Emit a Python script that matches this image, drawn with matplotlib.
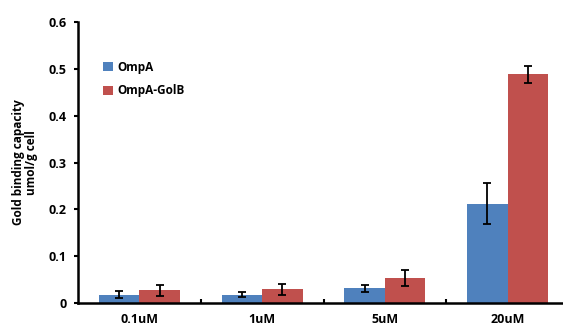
import numpy as np
import matplotlib.pyplot as plt

# data
categories = ["0.1uM", "1uM", "5uM", "20uM"]
ompa = [0.018, 0.018, 0.031, 0.212]
ompa_err = [0.007, 0.006, 0.008, 0.044]
golb = [0.027, 0.029, 0.053, 0.488]
golb_err = [0.011, 0.011, 0.017, 0.018]

plt.rcParams['font.family'] = ['Open Sans', 'DejaVu Sans']
plt.rcParams['font.weight'] = 'bold'

fig = plt.figure(figsize=(5.63, 3.26), dpi=100)
ax = fig.add_axes([78 / 563, 23 / 326, 491 / 563, 281 / 326])

x = np.arange(len(categories))
w = 0.33
err_kw = dict(ecolor='black', elinewidth=1.3, capsize=3, capthick=1.3)
ax.bar(x - w / 2, ompa, w, yerr=ompa_err, color='#4F81BD', label='OmpA',
       error_kw=err_kw)
ax.bar(x + w / 2, golb, w, yerr=golb_err, color='#C0504D', label='OmpA-GolB',
       error_kw=err_kw)

ax.set_xlim(-0.5, 3.5)
ax.set_ylim(0, 0.6)
ax.set_yticks([0, 0.1, 0.2, 0.3, 0.4, 0.5, 0.6])
ax.set_yticklabels(['0', '0.1', '0.2', '0.3', '0.4', '0.5', '0.6'])
ax.set_xticks(x)
ax.set_xticklabels(categories)
ax.set_xticks([0.5, 1.5, 2.5], minor=True)
ax.tick_params(axis='x', which='major', length=0, pad=7, labelsize=9)
ax.tick_params(axis='x', which='minor', direction='in', length=3, width=1.5)
ax.tick_params(axis='y', length=3, width=1.5, labelsize=9, pad=5)

for s in ['top', 'right']:
    ax.spines[s].set_visible(False)
for s in ['left', 'bottom']:
    ax.spines[s].set_linewidth(1.8)

ax.set_ylabel('Gold binding capacity\numol/g cell', fontsize=8.5,
              fontweight='bold', labelpad=8, linespacing=1.0)

ax.legend(loc='upper left', bbox_to_anchor=(0.03, 0.9), frameon=False,
          fontsize=8.5, handlelength=0.8, handleheight=0.8,
          handletextpad=0.4, labelspacing=0.9)

fig.savefig('out.png', dpi=100)
